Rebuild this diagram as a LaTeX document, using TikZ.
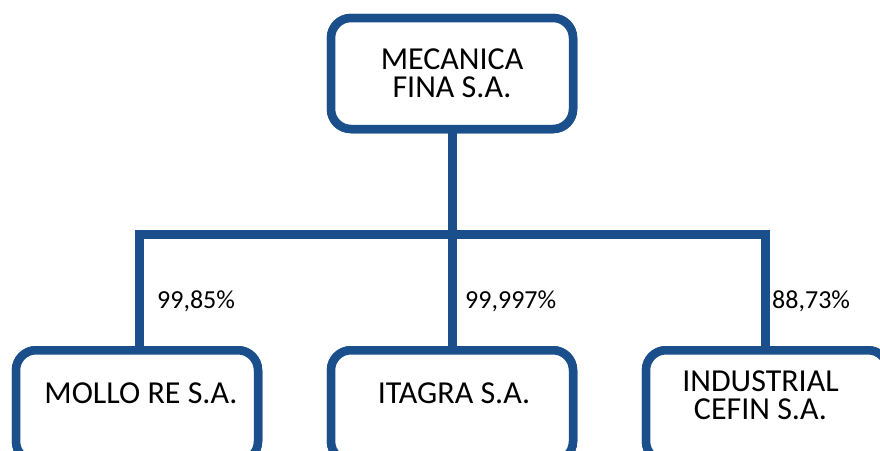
\documentclass[tikz,border=0pt]{standalone}
\usepackage{fontspec}
\setmainfont{Carlito}
\definecolor{orgblue}{HTML}{1A4F8B}
\begin{document}
\begin{tikzpicture}[x=1pt,y=-1pt,
  box/.style={draw=orgblue,line width=8.5pt,rounded corners=20pt,fill=white,
    minimum width=242pt,minimum height=111pt,inner sep=0pt},
  boxtext/.style={font=\fontsize{32}{28}\selectfont,align=center,text=black,inner sep=0pt},
  pct/.style={font=\fontsize{26}{30}\selectfont,text=black,anchor=base west,inner sep=0pt},
  link/.style={draw=orgblue,line width=9pt,line join=miter}]
\fill[white] (0,0) rectangle (880,450);
\coordinate (bus) at (452,234.5);
% boxes
\node[box] (top) at (452,73.5) {};
\node[box,anchor=north] (left) at (137,346) {};
\node[box,anchor=north] (mid) at (452,346) {};
\node[box,anchor=north] (right) at (767,346) {};
% connectors
\draw[link] (top.south) -- (bus);
\draw[link] (bus) -- (mid.north);
\draw[link] ([xshift=2pt]left.north) |- (bus) -| ([xshift=-2pt]right.north);
% redraw boxes on top of connectors
\node[box] at (top) {};
\node[box] at (left) {};
\node[box] at (mid) {};
\node[box] at (right) {};
% texts
\node[boxtext] (ttop) at (452,73.5) {MECANICA\\FINA S.A.};
\node[boxtext] (tleft) at (141,393.5) {MOLLO RE S.A.};
\node[boxtext] (tmid) at (454,393.5) {ITAGRA S.A.};
\node[boxtext] (tright) at (760.5,395) {INDUSTRIAL\\CEFIN S.A.};
% percentages
\node[pct] (p1) at (157,308) {99,85\%};
\node[pct] (p2) at (465,308) {99,997\%};
\node[pct] (p3) at (772,308) {88,73\%};
\pgfresetboundingbox
\useasboundingbox (0,0) rectangle (880,450);
\end{tikzpicture}
\end{document}
